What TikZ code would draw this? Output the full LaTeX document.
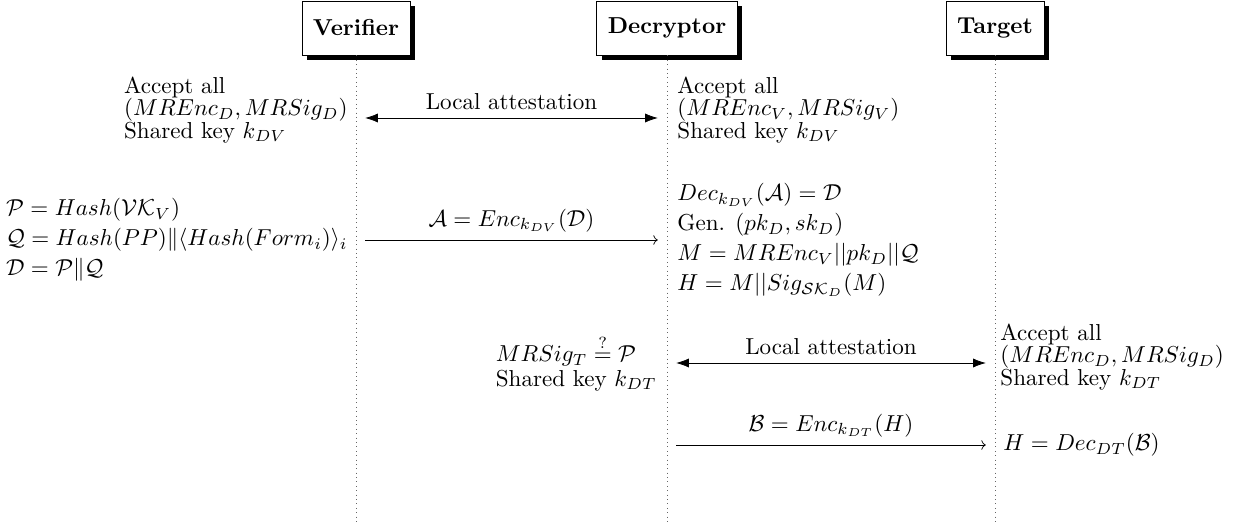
\documentclass[tikz,border=0pt]{standalone}
\usepackage{tikz, amsmath}
\usetikzlibrary{arrows.meta,shadows}

\begin{document}
\begin{tikzpicture}[x=0.5464pt, y=-0.5464pt,
    every node/.style={scale=1.26, font=\fontsize{10}{9.6}\selectfont}]
\tikzstyle{actor}=
[
    %Boxes at the head of each lifeline
    draw, fill=white, font=\fontsize{10}{12}\selectfont\bfseries,
    inner xsep=4.8pt, minimum height=23.4pt,
    drop shadow={fill=black, opacity=1, shadow xshift=2.8pt, shadow yshift=-2.8pt}
    ]
\tikzstyle{lifeline}=[dotted, black!60]
\tikzstyle{attest}=[{Latex[length=7pt,width=5pt]}-{Latex[length=7pt,width=5pt]}, shorten <=5pt, shorten >=5pt]
\tikzstyle{msg}=[->, shorten <=5pt, shorten >=5pt]
\tikzstyle{block}=[align=left, inner sep=0pt]
\tikzstyle{mathblock}=[align=left, inner sep=0pt, font=\fontsize{10}{13}\selectfont]

\useasboundingbox (0,0) rectangle (1239,526);

%Participants
\node[actor] (verifier) at (356,28) {Verifier};
\node[actor] (decryptor) at (667,28) {Decryptor};
\node[actor] (target) at (995,28) {Target};

%Lifelines
\coordinate (verifier end) at (356,522);
\coordinate (decryptor end) at (667,522);
\coordinate (target end) at (995,522);
\draw[lifeline] (verifier.south) -- (verifier end);
\draw[lifeline] (decryptor.south) -- (decryptor end);
\draw[lifeline] (target.south) -- (target end);

%First local attestation
\coordinate (v1) at (356,118);
\coordinate (d1) at (667,118);
\draw[attest] (v1) -- node[above] {Local attestation} (d1);
\node[block, anchor=east] (vacc) at (348,110)
    {Accept all\\ $(MREnc_D, MRSig_D)$\\ Shared key $k_{DV}$};
\node[block, anchor=west] (dacc) at (677,110)
    {Accept all\\ $(MREnc_V, MRSig_V)$\\ Shared key $k_{DV}$};

%Verifier sends A
\coordinate (v2) at (356,240);
\coordinate (d2) at (667,240);
\draw[msg] (v2) -- node[above] {$\mathcal{A} = Enc_{k_{DV}}(\mathcal{D})$} (d2);
\node[mathblock, anchor=east] (vcomp) at (348,240)
    {$\mathcal{P} = Hash(\mathcal{VK}_V)$\\
     $\mathcal{Q} = Hash(PP) \| \langle Hash(Form_i) \rangle_i$\\
     $\mathcal{D} = \mathcal{P} \| \mathcal{Q}$};
\node[mathblock, anchor=west] (dcomp) at (677,240)
    {$Dec_{k_{DV}}(\mathcal{A}) = \mathcal{D}$\\
     Gen. $(pk_D, sk_D)$\\
     $M = MREnc_V || pk_D || \mathcal{Q}$\\
     $H = M || Sig_{\mathcal{SK}_D}(M)$};

%Second local attestation
\coordinate (d3) at (667,363);
\coordinate (t3) at (995,363);
\draw[attest] (d3) -- node[above] {Local attestation} (t3);
\node[block, anchor=east] (dcheck) at (657,363)
    {$MRSig_T \stackrel{?}{=} \mathcal{P}$\\[1pt] Shared key $k_{DT}$};
\node[block, anchor=west] (tacc) at (1000,357)
    {Accept all\\ $(MREnc_D, MRSig_D)$\\ Shared key $k_{DT}$};

%Decryptor sends B
\coordinate (d4) at (667,445);
\coordinate (t4) at (995,445);
\draw[msg] (d4) -- node[above] {$\mathcal{B} = Enc_{k_{DT}}(H)$} (t4);
\node[block, anchor=west] (tdec) at (1003,445) {$H = Dec_{DT}(\mathcal{B})$};
\end{tikzpicture}
\end{document}
